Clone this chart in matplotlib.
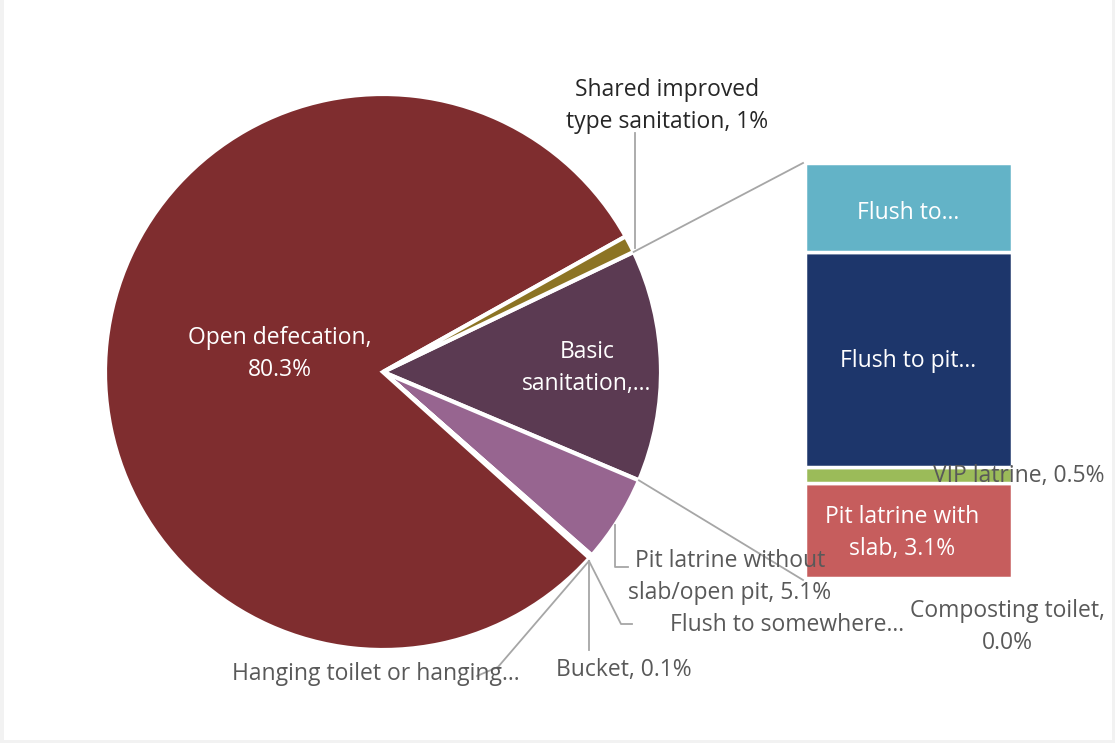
import numpy as np
import matplotlib

matplotlib.use("Agg")
import matplotlib.pyplot as plt
from matplotlib.patches import Rectangle

plt.rcParams["font.family"] = ["Open Sans", "DejaVu Sans"]

# pie slices, clockwise from the "other" slice (shares, %)
pie_names = [
    "Basic sanitation",
    "Pit latrine without slab/open pit",
    "Flush to somewhere else",
    "Bucket",
    "Hanging toilet or hanging latrine",
    "Open defecation",
    "Shared improved type sanitation",
]
pie_values = [13.5, 5.1, 0.05, 0.1, 0.05, 80.3, 1.0]
pie_colors = ["#5B3A52", "#976590", "#4F81BD", "#8064A2", "#C0504D",
              "#7F2D2F", "#8C7424"]

# breakdown of "Basic sanitation", bottom to top
bar_names = [
    "Composting toilet",
    "Pit latrine with slab",
    "VIP latrine",
    "Flush to pit latrine",
    "Flush to piped sewer system",
]
bar_values = [0.0, 3.1, 0.5, 7.0, 2.9]
bar_colors = ["#F79646", "#C65D5D", "#9BBB59", "#1D366B", "#63B3C7"]

W, H = 1115, 743
fig = plt.figure(figsize=(W / 100, H / 100), dpi=100, facecolor="#F2F2F2")
fig.patches.append(Rectangle((4 / W, 3 / H), 1108 / W, 1 - 3 / H,
                             transform=fig.transFigure, facecolor="white",
                             edgecolor="none", zorder=-1))
ax = fig.add_axes([0, 0, 1, 1], zorder=1)
ax.patch.set_alpha(0)


def py(y):
    # pixel row (from top) -> data y
    return H - y


cx, cy, r = 383, py(372), 278
start = 25.6
wedges, _ = ax.pie(pie_values, center=(cx, cy), radius=r, startangle=start,
                   counterclock=False, colors=pie_colors,
                   wedgeprops=dict(edgecolor="white", linewidth=3),
                   frame=True)
ax.set_xlim(0, W)
ax.set_ylim(0, H)
ax.set_aspect("equal")
ax.axis("off")

# stacked bar for the breakdown
bx0, bx1 = 805, 1012
scale = 415 / sum(bar_values)
bottom = py(578)
tops = []
for v, c in zip(bar_values, bar_colors):
    ax.bar((bx0 + bx1) / 2, v * scale, width=bx1 - bx0, bottom=bottom,
           color=c, edgecolor="white", linewidth=2.5)
    bottom += v * scale
    tops.append(bottom)

# connector lines from the "other" slice to the bar
lc = "#A6A6A6"
a1 = np.deg2rad(start)
a2 = np.deg2rad(start - pie_values[0] / sum(pie_values) * 360)
ax.plot([cx + r * np.cos(a1), bx0 - 2], [cy + r * np.sin(a1), tops[-1]],
        color=lc, lw=1.3)
ax.plot([cx + r * np.cos(a2), bx0 - 2], [cy + r * np.sin(a2), py(580)],
        color=lc, lw=1.3)

fs = 16.5
ls = 1.4
dy = 3
grey = "#595959"
white_labels = [
    ("Open defecation,\n80.3%", 280, 351),
    ("Basic\nsanitation,...", 587, 365),
    ("Flush to...", 908, 210),
    ("Flush to pit...", 908, 358),
    ("Pit latrine with\nslab, 3.1%", 902, 530),
]
for t, x, y in white_labels:
    ax.text(x, py(y + dy), t, color="white", fontsize=fs, ha="center",
            va="center", linespacing=ls)

grey_labels = [
    ("Pit latrine without\nslab/open pit, 5.1%", 730, 574),
    ("Flush to somewhere...", 787, 622),
    ("Bucket, 0.1%", 624, 667),
    ("Hanging toilet or hanging...", 376, 671),
    ("VIP latrine, 0.5%", 1019, 473),
    ("Composting toilet,\n0.0%", 1007, 624),
]
for t, x, y in grey_labels:
    ax.text(x, py(y + dy), t, color=grey, fontsize=fs, ha="center",
            va="center", linespacing=ls)
ax.text(667, py(103 + dy), "Shared improved\ntype sanitation, 1%",
        color="#262626", fontsize=fs, ha="center", va="center",
        linespacing=ls)

# leader lines
leaders = [
    [(635, 248), (635, 133)],
    [(615, 525), (615, 567), (628, 567)],
    [(589, 561), (621, 624), (632, 624)],
    [(589, 561), (589, 650)],
    [(589, 561), (498, 667), (477, 676)],
]
for pts in leaders:
    xs = [p[0] for p in pts]
    ys = [py(p[1]) for p in pts]
    ax.plot(xs, ys, color=lc, lw=1.3)

fig.savefig("out.png", dpi=100, facecolor=fig.get_facecolor())
